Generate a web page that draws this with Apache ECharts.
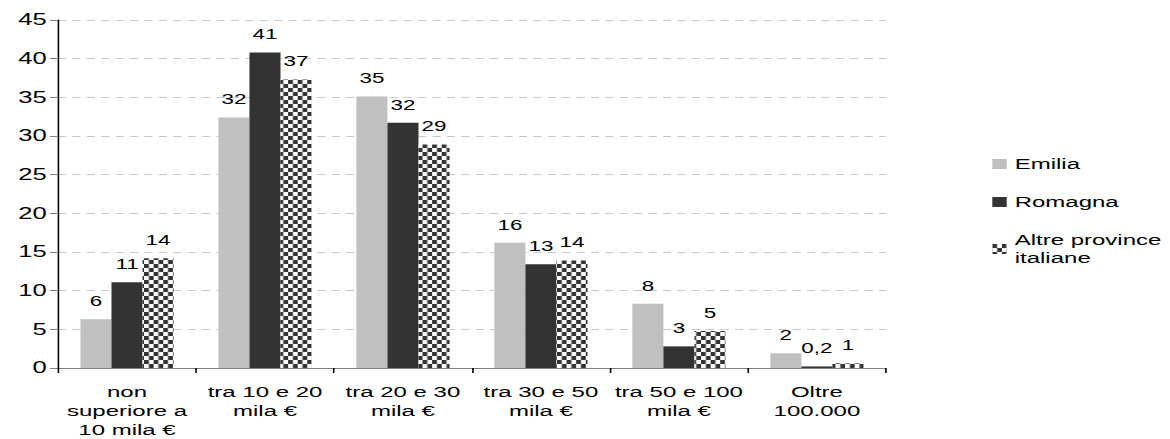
<!DOCTYPE html>
<html>
<head>
<meta charset="utf-8">
<script src="https://cdn.jsdelivr.net/npm/echarts@6/dist/echarts.min.js"></script>
<style>
  html, body { margin: 0; padding: 0; background: #ffffff; overflow: hidden; }
  /* The chart is laid out narrow and stretched horizontally to the page width */
  #chart { width: 731px; height: 439px; transform: scaleX(1.6005); transform-origin: 0 0; }
</style>
</head>
<body>
<div id="chart"></div>
<script>
// Income brackets (category axis)
const categories = [
  'non\nsuperiore a\n10 mila €',
  'tra 10 e 20\nmila €',
  'tra 20 e 30\nmila €',
  'tra 30 e 50\nmila €',
  'tra 50 e 100\nmila €',
  'Oltre\n100.000'
];

// Percentage shares by area
const emilia  = [6.3, 32.4, 35.1, 16.2, 8.3, 1.9];
const romagna = [11.1, 40.8, 31.7, 13.4, 2.8, 0.2];
const altre   = [14.2, 37.3, 28.9, 13.9, 4.8, 0.6];

const seriesNames = ['Emilia', 'Romagna', 'Altre province\nitaliane'];
const yTicks = [0, 5, 10, 15, 20, 25, 30, 35, 40, 45];

// Checkerboard fill for the third series
function checker() {
  const c = document.createElement('canvas');
  c.width = 6; c.height = 8;
  const g = c.getContext('2d');
  g.fillStyle = '#ffffff';
  g.fillRect(0, 0, 6, 8);
  g.fillStyle = '#333333';
  g.fillRect(0, 0, 3, 4);
  g.fillRect(3, 4, 3, 4);
  return c;
}

// Integer labels, one decimal with comma below 0.5
function fmt(p) {
  const v = p.value;
  if (v < 0.5) return String(v).replace('.', ',');
  return String(Math.round(v));
}

const FONT = '"Liberation Sans", Arial, sans-serif';
const labelStyle = {
  show: true, position: 'top', distance: 11,
  formatter: fmt, color: '#000', fontSize: 14, fontFamily: FONT
};

const chart = echarts.init(document.getElementById('chart'), null, { renderer: 'svg' });
chart.setOption({
  animation: false,
  backgroundColor: '#ffffff',
  grid: { left: 36.25, right: 177.5, top: 20, bottom: 66, containLabel: false },
  legend: {
    orient: 'vertical',
    left: 615, top: 150,
    itemWidth: 9, itemHeight: 10, itemGap: 20,
    icon: 'rect',
    textStyle: { fontSize: 15, fontFamily: FONT, color: '#000', lineHeight: 18 },
    data: seriesNames
  },
  xAxis: {
    type: 'category',
    data: categories,
    axisLine: { lineStyle: { color: '#808080', width: 1 } },
    axisTick: { show: true, alignWithLabel: false, length: 5, lineStyle: { color: '#000' } },
    axisLabel: {
      interval: 0, margin: 14, color: '#000', fontSize: 15,
      fontFamily: FONT, lineHeight: 19
    }
  },
  yAxis: {
    type: 'value',
    min: yTicks[0], max: yTicks[yTicks.length - 1], interval: 5,
    axisLine: { show: true, lineStyle: { color: '#000', width: 1 } },
    axisTick: { show: true, length: 5, lineStyle: { color: '#808080' } },
    axisLabel: { margin: 7, color: '#000', fontSize: 16, fontFamily: FONT },
    splitLine: { show: true, lineStyle: { color: '#c8c8c8', type: [5, 4], width: 1 } }
  },
  series: [
    {
      name: seriesNames[0], type: 'bar', data: emilia,
      barWidth: 19.4, barGap: '0%',
      itemStyle: { color: '#c0c0c0' },
      label: labelStyle
    },
    {
      name: seriesNames[1], type: 'bar', data: romagna,
      barWidth: 19.4, barGap: '0%',
      itemStyle: { color: '#333333' },
      label: labelStyle
    },
    {
      name: seriesNames[2], type: 'bar', data: altre,
      barWidth: 19.4, barGap: '0%',
      itemStyle: { color: { image: checker(), repeat: 'repeat' } },
      label: labelStyle
    }
  ]
});
</script>
</body>
</html>
